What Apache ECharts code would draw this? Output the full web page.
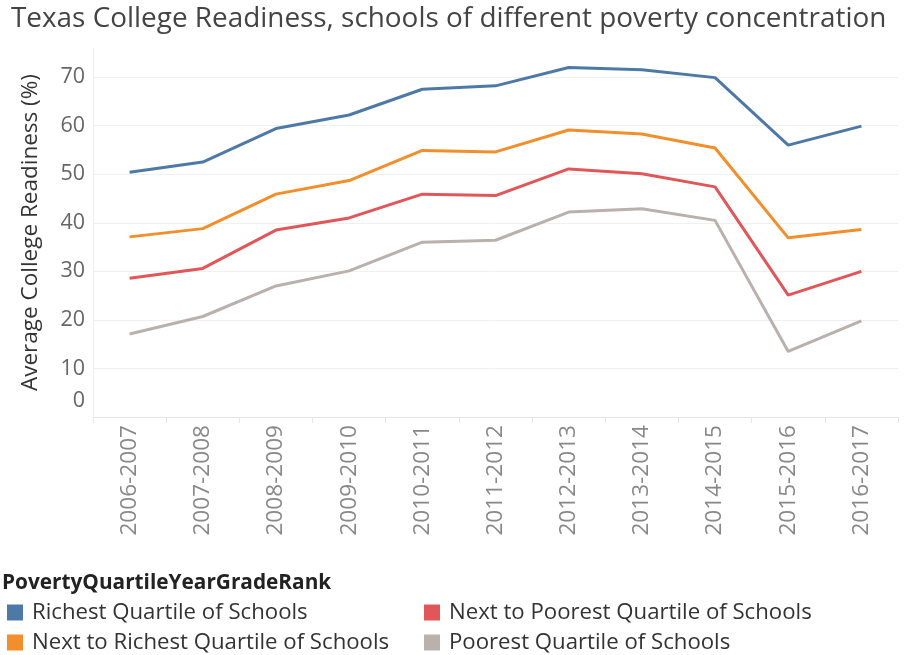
<!DOCTYPE html>
<html>
<head>
<meta charset="utf-8">
<script src="https://cdn.jsdelivr.net/npm/echarts@6/dist/echarts.min.js"></script>
<style>html,body{margin:0;padding:0;background:#fff;}#c{width:906px;height:655px;}</style>
</head>
<body>
<div id="c"></div>
<script>
const categories = ['2006-2007','2007-2008','2008-2009','2009-2010','2010-2011','2011-2012','2012-2013','2013-2014','2014-2015','2015-2016','2016-2017'];
const richest = [50.4, 52.5, 59.4, 62.2, 67.5, 68.2, 72.0, 71.5, 69.9, 56.0, 59.9];
const nextRichest = [37.1, 38.8, 45.9, 48.7, 54.9, 54.6, 59.1, 58.3, 55.4, 36.9, 38.6];
const nextPoorest = [28.6, 30.6, 38.5, 41.0, 45.9, 45.6, 51.1, 50.1, 47.4, 25.1, 30.0];
const poorest = [17.1, 20.7, 27.0, 30.1, 36.0, 36.4, 42.2, 42.9, 40.5, 13.5, 19.8];
const seriesNames = ['Richest Quartile of Schools','Next to Richest Quartile of Schools','Next to Poorest Quartile of Schools','Poorest Quartile of Schools'];
const colors = ['#4e79a7','#f28e2b','#e15759','#bab0ac'];

const FONT = 'Open Sans';
const chart = echarts.init(document.getElementById('c'));
const dataSets = [richest, nextRichest, nextPoorest, poorest];
const legendPos = [[7, 600], [7, 630], [424, 600], [424, 630]];
function mkLegend(i) {
  return {
    data: [seriesNames[i]], orient: 'horizontal', left: legendPos[i][0], top: legendPos[i][1], icon: 'rect',
    itemWidth: 16, itemHeight: 16, itemGap: 0, selectedMode: false, padding: 0,
    textStyle: { fontFamily: FONT, fontSize: 22.2, color: '#333', lineHeight: 25, padding: [0, 0, 0, 4] }
  };
}
chart.setOption({
  animation: false,
  textStyle: { fontFamily: FONT },
  title: [
    { text: 'Texas College Readiness, schools of different poverty concentration', left: 11, top: 5, padding: 0,
      textStyle: { fontFamily: FONT, fontSize: 27.9, fontWeight: 'normal', color: '#444' } },
    { text: 'PovertyQuartileYearGradeRank', left: 2, top: 573, padding: 0,
      textStyle: { fontFamily: FONT, fontSize: 20.8, fontWeight: 'bold', color: '#222' } }
  ],
  legend: [0, 1, 2, 3].map(mkLegend),
  grid: { left: 93, right: 8, top: 48, bottom: 238, containLabel: false },
  xAxis: {
    type: 'category', data: categories, boundaryGap: true,
    axisLine: { show: true, lineStyle: { color: '#e6e6e6', width: 1 } },
    axisTick: { show: true, length: 6, interval: 0, lineStyle: { color: '#e6e6e6' } },
    axisLabel: { rotate: 90, interval: 0, fontFamily: FONT, fontSize: 22.6, color: '#888', margin: 8 },
    splitLine: { show: false }
  },
  yAxis: {
    type: 'value', min: 0, max: 76, interval: 10,
    name: 'Average College Readiness (%)', nameLocation: 'middle', nameGap: 51,
    nameTextStyle: { fontFamily: FONT, fontSize: 22.5, color: '#333' },
    axisLine: { show: true, lineStyle: { color: '#ececec' } },
    axisTick: { show: false },
    axisLabel: {
      showMaxLabel: false, fontFamily: FONT, fontSize: 21.5, color: '#666', margin: 8,
      formatter: v => v === 0 ? '{z|0}' : String(v),
      rich: { z: { fontFamily: FONT, fontSize: 21.5, color: '#666', padding: [0, 0, 32, 0] } }
    },
    splitLine: { show: true, showMinLine: false, showMaxLine: false, lineStyle: { color: '#f0f0f0', width: 1 } }
  },
  series: seriesNames.map((n, i) => ({
    name: n, type: 'line', data: dataSets[i], symbol: 'none', smooth: false,
    lineStyle: { color: colors[i], width: 3 }, itemStyle: { color: colors[i] }, z: 10 - i
  }))
});
</script>
</body>
</html>
